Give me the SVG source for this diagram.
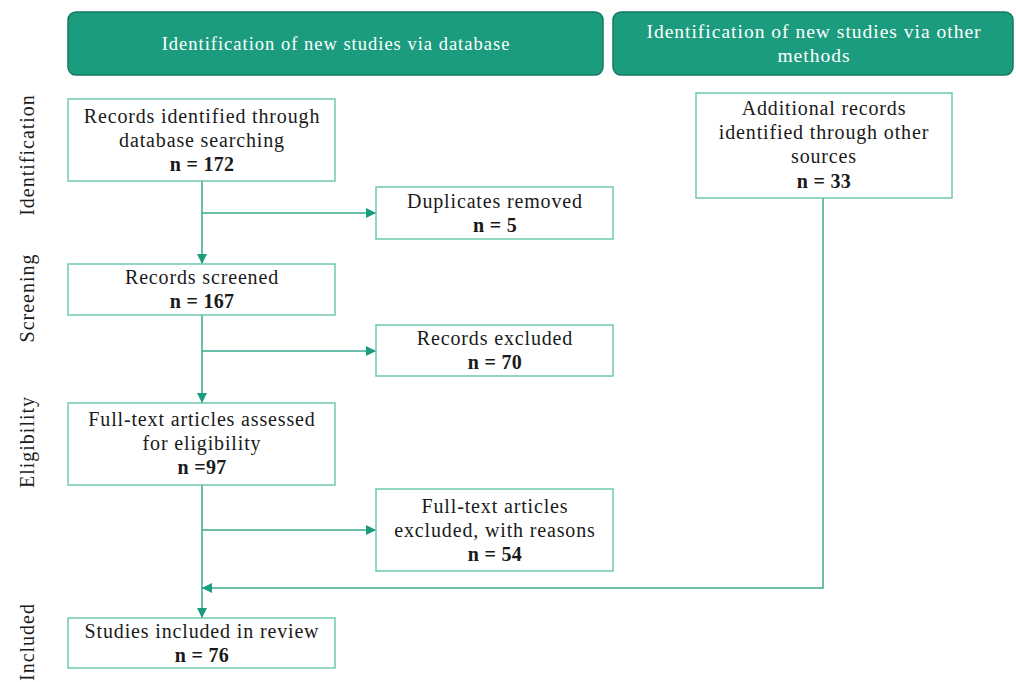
<svg xmlns="http://www.w3.org/2000/svg" width="1016" height="682" viewBox="0 0 1016 682">
<style>
.hdr{fill:#1b9c7e;stroke:#137a62;stroke-width:1.5}
.hdrt{font-family:"Liberation Serif",serif;font-size:18.5px;letter-spacing:1px;fill:#ffffff;text-anchor:middle}
.hdrt2{font-family:"Liberation Serif",serif;font-size:19.5px;letter-spacing:1px;fill:#ffffff;text-anchor:middle}
.box{fill:#ffffff;stroke:#6fc7b1;stroke-width:1.5}
.t{font-family:"Liberation Serif",serif;font-size:20px;letter-spacing:0.85px;fill:#1a1a1a;text-anchor:middle}
.b{font-weight:bold;letter-spacing:0.3px}
.side{font-family:"Liberation Serif",serif;font-size:20px;letter-spacing:1px;fill:#1a1a1a;text-anchor:middle}
.ln{fill:none;stroke:#3aa88c;stroke-width:1.5}
</style>
<defs>
<marker id="ah" viewBox="0 0 10 10" refX="10" refY="5" markerWidth="10" markerHeight="10" markerUnits="userSpaceOnUse" orient="auto">
<path d="M0,0 L10,5 L0,10 z" fill="#1b9c7e"/>
</marker>
</defs>
<rect width="1016" height="682" fill="#ffffff"/>
<g id="hdr1"><rect class="hdr" x="68" y="12" width="535" height="63" rx="8"/><text class="hdrt" x="336" y="50">Identification of new studies via database</text></g>
<g id="hdr2"><rect class="hdr" x="613" y="12" width="400" height="63" rx="8"/><text class="hdrt2" x="814" y="38">Identification of new studies via other</text><text class="hdrt2" x="814" y="62">methods</text></g>
<g id="lab-ident"><text class="side" transform="translate(34,155) rotate(-90)">Identification</text></g>
<g id="lab-screen"><text class="side" transform="translate(34,298) rotate(-90)">Screening</text></g>
<g id="lab-elig"><text class="side" transform="translate(34,442) rotate(-90)">Eligibility</text></g>
<g id="lab-incl"><text class="side" transform="translate(34,642) rotate(-90)">Included</text></g>
<g id="connectors">
<line class="ln" x1="202" y1="181" x2="202" y2="264" marker-end="url(#ah)"/>
<line class="ln" x1="202" y1="213" x2="376" y2="213" marker-end="url(#ah)"/>
<line class="ln" x1="202" y1="315" x2="202" y2="403" marker-end="url(#ah)"/>
<line class="ln" x1="202" y1="351" x2="376" y2="351" marker-end="url(#ah)"/>
<line class="ln" x1="202" y1="485" x2="202" y2="618" marker-end="url(#ah)"/>
<line class="ln" x1="202" y1="530" x2="376" y2="530" marker-end="url(#ah)"/>
<polyline class="ln" points="823,198 823,588 202,588" marker-end="url(#ah)"/>
</g>
<g id="n1"><rect class="box" x="68" y="99" width="267" height="82"/><text class="t" x="202" y="123">Records identified through</text><text class="t" x="202" y="147">database searching</text><text class="t b" x="202" y="171">n = 172</text></g>
<g id="n2"><rect class="box" x="376" y="187" width="237" height="52"/><text class="t" x="495" y="208">Duplicates removed</text><text class="t b" x="495" y="232">n = 5</text></g>
<g id="n3"><rect class="box" x="68" y="264" width="267" height="51"/><text class="t" x="202" y="284">Records screened</text><text class="t b" x="202" y="308">n = 167</text></g>
<g id="n4"><rect class="box" x="376" y="325" width="237" height="51"/><text class="t" x="495" y="345">Records excluded</text><text class="t b" x="495" y="369">n = 70</text></g>
<g id="n5"><rect class="box" x="68" y="403" width="267" height="82"/><text class="t" x="202" y="426">Full-text articles assessed</text><text class="t" x="202" y="450">for eligibility</text><text class="t b" x="202" y="474">n =97</text></g>
<g id="n6"><rect class="box" x="376" y="489" width="237" height="82"/><text class="t" x="495" y="513">Full-text articles</text><text class="t" x="495" y="537">excluded, with reasons</text><text class="t b" x="495" y="561">n = 54</text></g>
<g id="n7"><rect class="box" x="68" y="618" width="267" height="50"/><text class="t" x="202" y="638">Studies included in review</text><text class="t b" x="202" y="662">n = 76</text></g>
<g id="n8"><rect class="box" x="696" y="93" width="256" height="105"/><text class="t" x="824" y="115">Additional records</text><text class="t" x="824" y="139">identified through other</text><text class="t" x="824" y="163">sources</text><text class="t b" x="824" y="188">n = 33</text></g>
</svg>
